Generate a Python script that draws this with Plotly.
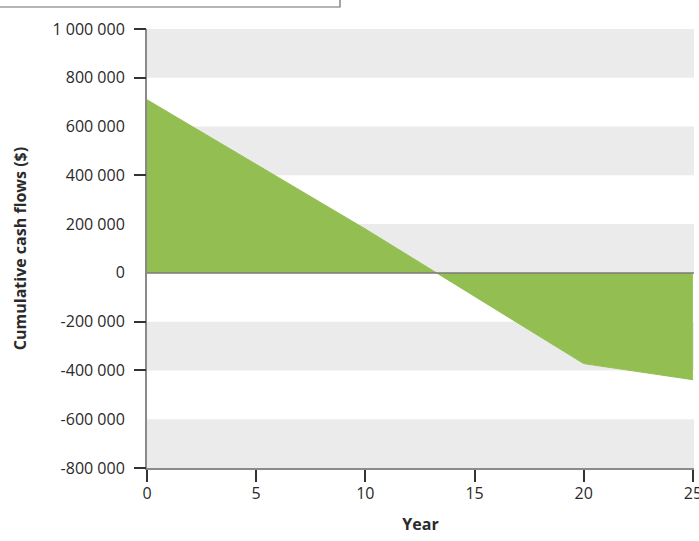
import plotly.graph_objects as go

years = [0, 10, 20, 25]
cash_flows = [710000, 180000, -372000, -438000]

y_tick_vals = [1000000, 800000, 600000, 400000, 200000, 0, -200000, -400000, -600000, -800000]
y_tick_text = ["1 000 000", "800 000", "600 000", "400 000", "200 000", "0",
               "-200 000", "-400 000", "-600 000", "-800 000"]
y_marked_ticks = [1000000, 800000, 400000, -200000, -400000, -800000]
x_tick_vals = [0, 5, 10, 15, 20, 25]
band_ranges = [(800000, 1000000), (400000, 600000), (0, 200000),
               (-400000, -200000), (-800000, -600000)]

W, H = 699, 541
ML, MR, MT, MB = 147, 5, 29, 73
pw = W - ML - MR
ph = H - MT - MB

fig = go.Figure()
fig.add_trace(go.Scatter(
    x=years, y=cash_flows, mode="lines", fill="tozeroy",
    fillcolor="#93bf52", line=dict(color="#93bf52", width=1),
    hoverinfo="x+y", showlegend=False,
))
fig.add_trace(go.Scatter(x=[0], y=[0], yaxis="y2", mode="markers",
                         marker=dict(opacity=0), showlegend=False, hoverinfo="skip"))

shapes = []
for lo, hi in band_ranges:
    shapes.append(dict(type="rect", xref="paper", x0=0, x1=1, yref="y", y0=lo, y1=hi,
                       fillcolor="#ebebeb", line=dict(width=0), layer="below"))
shapes.append(dict(type="line", xref="paper", x0=0, x1=1, yref="y", y0=0, y1=0,
                   line=dict(color="#7a7a7a", width=1.5), layer="above"))

def px_to_paper_x(px):
    return (px - ML) / pw
def px_to_paper_y(py):
    return (MT + ph - py) / ph
shapes.append(dict(type="rect", xref="paper", yref="paper",
                   x0=px_to_paper_x(-3), x1=px_to_paper_x(340),
                   y0=px_to_paper_y(7), y1=px_to_paper_y(-3),
                   line=dict(color="#6a6a6a", width=1.2), fillcolor="rgba(0,0,0,0)"))

font_family = "Open Sans, DejaVu Sans, sans-serif"
fig.update_layout(
    width=W, height=H,
    margin=dict(l=ML, r=MR, t=MT, b=MB),
    paper_bgcolor="white", plot_bgcolor="white",
    font=dict(family=font_family, size=16, color="#2a2a2a"),
    shapes=shapes,
    xaxis=dict(
        range=[0, 25.05], tickvals=x_tick_vals, ticktext=[str(v) for v in x_tick_vals],
        showgrid=False, zeroline=False, automargin=False, ticklabeloverflow="allow",
        showline=True, linecolor="#8a8a8a", linewidth=2,
        ticks="outside", ticklen=12, tickwidth=1.5, tickcolor="#333333",
        tickfont=dict(size=16, color="#2a2a2a"), ticklabelstandoff=-2,
        title=dict(text="<b>Year</b>", font=dict(size=16, color="#2a2a2a"), standoff=16),
    ),
    yaxis=dict(
        range=[-800000, 1000000], tickvals=y_tick_vals, ticktext=y_tick_text,
        showgrid=False, zeroline=False, automargin=False, ticklabeloverflow="allow",
        showline=True, linecolor="#8a8a8a", linewidth=2,
        ticks="outside", ticklen=17, tickcolor="rgba(0,0,0,0)",
        tickfont=dict(size=16, color="#2a2a2a"),
        title=dict(text="<b>Cumulative cash flows ($)</b>", font=dict(size=16, color="#2a2a2a"),
                   standoff=22),
    ),
    yaxis2=dict(
        range=[-800000, 1000000], overlaying="y", side="left", automargin=False,
        tickvals=y_marked_ticks, showticklabels=False, showgrid=False, zeroline=False,
        ticks="outside", ticklen=12, tickwidth=1.5, tickcolor="#333333",
    ),
)

fig.write_html("out.html", config={"displayModeBar": False},
               post_script="document.body.style.margin='0';")
